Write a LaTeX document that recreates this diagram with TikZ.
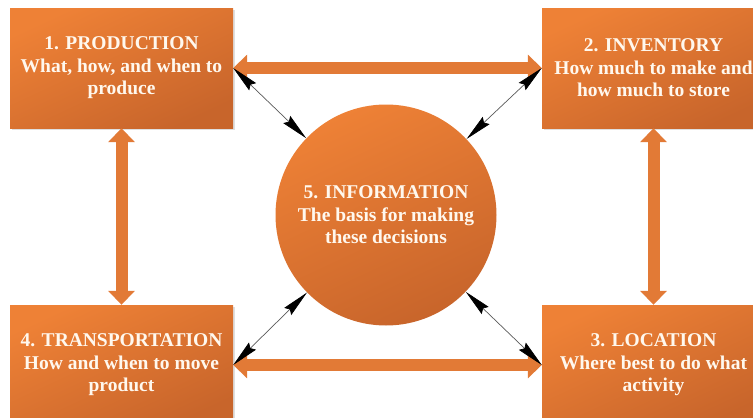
\documentclass[tikz,border=0pt]{standalone}
\usepackage{fontspec}
\setmainfont{Liberation Serif}
\usetikzlibrary{arrows.meta,shadows}
\definecolor{orL}{HTML}{EE8136}
\definecolor{orD}{HTML}{C8652B}
\definecolor{orA}{HTML}{E27A36}
\definecolor{txt}{HTML}{FFF8EE}
\begin{document}
\begin{tikzpicture}[x=1pt,y=-1pt,
  boxstyle/.style={rectangle, minimum width=223pt, minimum height=120pt, inner sep=0pt,
    shading=axis, top color=orL, bottom color=orD, shading angle=25,
    drop shadow={shadow xshift=2pt, shadow yshift=-2pt, opacity=0.25},
    text=txt, align=center, font=\fontsize{19.5}{22.5}\selectfont\bfseries},
  infostyle/.style={circle, minimum size=221pt, inner sep=0pt,
    shading=axis, top color=orL, bottom color=orD, shading angle=25,
    text=txt, align=center, font=\fontsize{19.5}{22.5}\selectfont\bfseries},
  fatarrow/.style={draw=orA, line width=12pt,
    {Triangle[width=26pt,length=14pt]}-{Triangle[width=26pt,length=14pt]}},
  thinarrow/.style={draw=black!65, line width=0.7pt,
    {Stealth[length=27pt,width=10pt,inset=3pt,black]}-{Stealth[length=27pt,width=10pt,inset=3pt,black]}}
]
\useasboundingbox (0,0) rectangle (753,418);
\clip (0,0) rectangle (753,418);
\node[boxstyle] (prod) at (121.5,68) {1. PRODUCTION\\What, how, and when to\\produce};
\node[boxstyle] (inv) at (653.5,68) {2. INVENTORY\\How much to make and\\how much to store};
\node[boxstyle] (loc) at (653.5,365) {3. LOCATION\\Where best to do what\\activity};
\node[boxstyle] (trans) at (121.5,365) {4. TRANSPORTATION\\How and when to move\\product};
\node[infostyle] (info) at (386,215) {5. INFORMATION\\The basis for making\\these decisions};
\draw[fatarrow] (prod.east) -- (inv.west);
\draw[fatarrow] (trans.east) -- (loc.west);
\draw[fatarrow] (prod.south) -- (trans.north);
\draw[fatarrow] (inv.south) -- (loc.north);
\draw[thinarrow] (prod.east) -- (info);
\draw[thinarrow] (inv.west) -- (info);
\draw[thinarrow] (trans.east) -- (info);
\draw[thinarrow] (loc.west) -- (info);
\end{tikzpicture}
\end{document}
